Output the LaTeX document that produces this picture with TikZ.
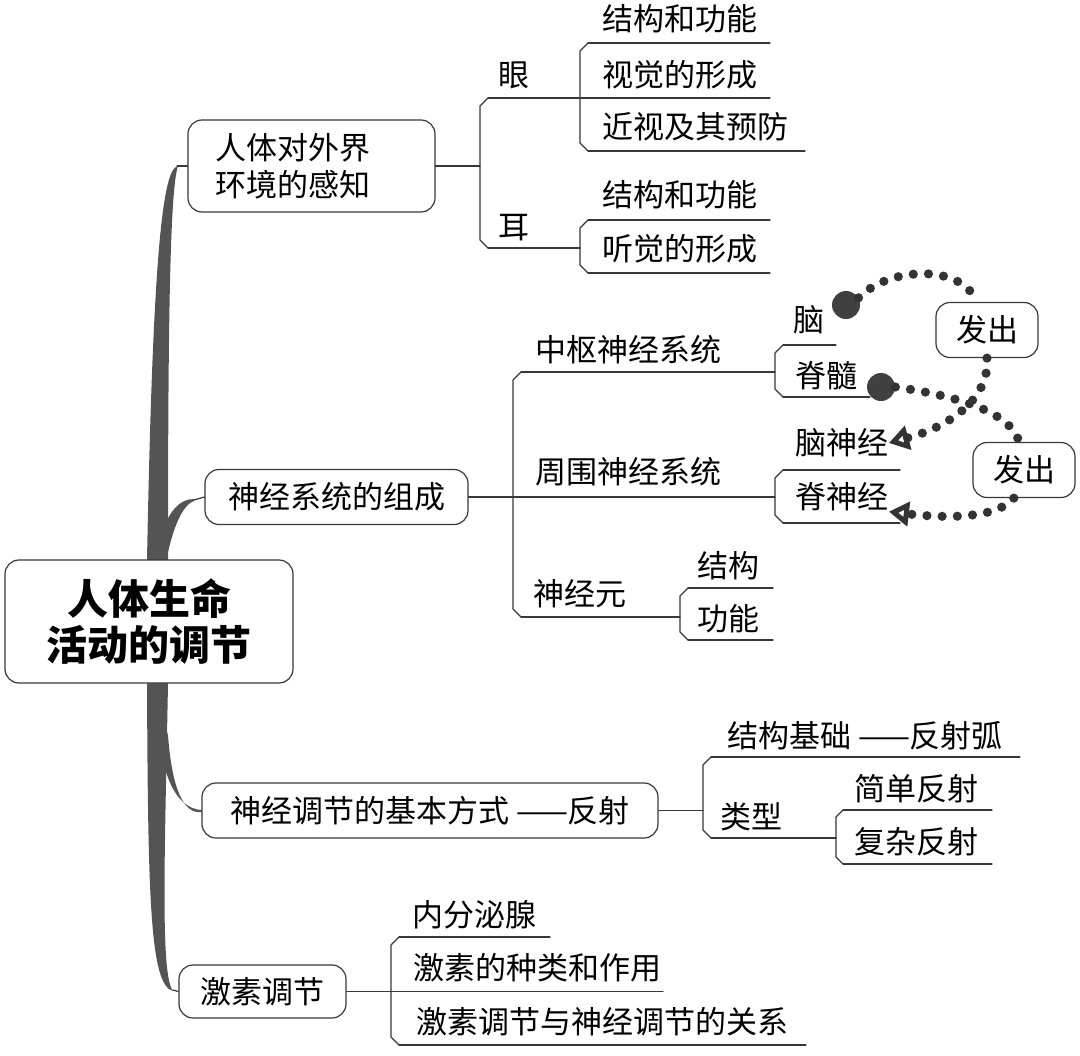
\documentclass[tikz,border=0pt]{standalone}
\usepackage{fontspec}
\newfontfamily\cjk{Noto Sans CJK SC}
\usetikzlibrary{arrows.meta, calc}
\definecolor{trunkgray}{rgb}{0.33, 0.33, 0.33}
\definecolor{linegray}{rgb}{0.22, 0.22, 0.22}

\begin{document}
\begin{tikzpicture}[x=0.5pt, y=-0.5pt, line cap=round, line join=round,
    every node/.style={font=\cjk\fontsize{15.5}{18.5}\selectfont, inner sep=0pt},
    box/.style={draw=linegray, line width=0.6pt, rounded corners=7pt, minimum height=27.5pt},
    twig/.style={draw=linegray, line width=0.6pt},
    dotpath/.style={draw=black!80, line width=4.6pt, dash pattern=on 0pt off 7.6pt},
    tip/.style={-{Triangle[open, length=10pt 0 0, width=12pt 0 0, line width=3pt]}},
    bead/.style={circle, fill=black!75, minimum size=14pt}]
    \useasboundingbox (0,0) rectangle (1080,1055);

    % trunk of the map
    \fill[trunkgray] (176,167) .. controls (160,175) and (152,300) .. (147,560) -- (147,683)
        .. controls (148,900) and (150,985) .. (173,991) .. controls (160,975) and (165,850) .. (168,683)
        -- (168,560) .. controls (168,320) and (170,190) .. (178,166) -- cycle;
    \fill[trunkgray] (194,499) .. controls (180,499) and (170,510) .. (162,532) -- (166,562)
        .. controls (172,530) and (182,505) .. (194,501) -- cycle;
    \fill[trunkgray] (201,812) .. controls (184,814) and (172,790) .. (168,735) -- (156,700)
        .. controls (158,775) and (176,808) .. (201,810) -- cycle;
    \coordinate (t1) at (177,166);
    \coordinate (t2) at (194,500);
    \coordinate (t3) at (201,811);
    \coordinate (t4) at (173,990);

    % main topics
    \node[box, fill=white, minimum width=144pt, minimum height=61.5pt, align=center,
        font=\cjk\bfseries\fontsize{20.5}{23}\selectfont] (root) at (149,621.5) {人体生命\\活动的调节};
    \node[box, minimum width=123.5pt, minimum height=46pt, text width=96.5pt, inner xsep=13.5pt,
        align=left] (sense) at (311.5,166) {人体对外界\\环境的感知};
    \node[box, minimum width=131.5pt] (nerve) at (336.5,497) {神经系统的组成};
    \node[box, minimum width=228pt] (reflex) at (430,810.5) {神经调节的基本方式 ——反射};
    \node[box, minimum width=83.5pt, minimum height=26.5pt] (hormone) at (262.5,991.5) {激素调节};
    \draw[twig] (t1) -- (sense.west);
    \draw[twig] (t2) -- (nerve.west);
    \draw[twig] (t3) -- (reflex.west);
    \draw[twig] (t4) -- (hormone.west);

    % eye and ear
    \node (eye) at (514,75) {眼};
    \node (ear) at (514,228) {耳};
    \node (eyeA) at (680,19) {结构和功能};
    \node (eyeB) at (680,75) {视觉的形成};
    \node (eyeC) at (695,127) {近视及其预防};
    \node (earA) at (680,195) {结构和功能};
    \node (earB) at (680,249) {听觉的形成};
    \coordinate (senseJ) at (480,166);
    \draw[twig] (sense.east) -- (senseJ);
    \draw[twig] (488,98) -- (480,106) -- (480,240) -- (488,248);
    \draw[twig] (488,98) -- (770,98);
    \draw[twig] (488,248) -- (580,248);
    \draw[twig] (588,43) -- (580,51) -- (580,143) -- (588,151);
    \draw[twig] (588,43) -- (770,43);
    \draw[twig] (588,151) -- (805,151);
    \draw[twig] (588,220) -- (580,228) -- (580,265) -- (588,273);
    \draw[twig] (588,220) -- (770,220);
    \draw[twig] (588,273) -- (770,273);

    % nervous system
    \node (cns) at (628,350) {中枢神经系统};
    \node (pns) at (628,472) {周围神经系统};
    \node (neuron) at (580,594) {神经元};
    \node (brain) at (809,320) {脑};
    \node (cord) at (826,376) {脊髓};
    \node (cranial) at (842,443) {脑神经};
    \node (spinal) at (842,497) {脊神经};
    \node (nstruct) at (728,566) {结构};
    \node (nfunc) at (728,619) {功能};
    \coordinate (nerveJ) at (513,497);
    \draw[twig] (nerve.east) -- (nerveJ);
    \draw[twig] (521,372) -- (513,380) -- (513,609) -- (521,617);
    \draw[twig] (521,372) -- (775,372);
    \draw[twig] (nerveJ) -- (775,497);
    \draw[twig] (521,617) -- (680,617);
    \draw[twig] (783,345) -- (775,353) -- (775,389) -- (783,397);
    \draw[twig] (783,345) -- (836,345);
    \draw[twig] (783,397) -- (870,397);
    \draw[twig] (783,470) -- (775,478) -- (775,515) -- (783,523);
    \draw[twig] (783,470) -- (900,470);
    \draw[twig] (783,523) -- (900,523);
    \draw[twig] (688,588) -- (680,596) -- (680,632) -- (688,640);
    \draw[twig] (688,588) -- (773,588);
    \draw[twig] (688,640) -- (773,640);

    % where the nerves come from
    \node[bead] (brainDot) at (846,305) {};
    \node[bead] (cordDot) at (881,387) {};
    \node[box, minimum width=51pt] (send1) at (987,330) {发出};
    \node[box, minimum width=51pt] (send2) at (1024,470) {发出};
    \draw[dotpath] (brainDot.30) .. controls (890,266) and (962,264) .. (send1.110);
    \draw[dotpath, tip] (send1.south) .. controls (990,395) and (955,425) .. (cranial.east);
    \draw[dotpath] (cordDot.east) .. controls (950,395) and (1010,410) .. (send2.100);
    \draw[dotpath, tip] (send2.250) .. controls (1000,515) and (960,520) .. (spinal.south east);

    % reflex
    \node (arcbase) at (865,736) {结构基础 ——反射弧};
    \node (kind) at (751,817) {类型};
    \node (simple) at (916,789) {简单反射};
    \node (complex) at (916,842) {复杂反射};
    \coordinate (reflexJ) at (703,810.5);
    \draw[twig] (reflex.east) -- (reflexJ);
    \draw[twig] (711,757) -- (703,765) -- (703,830) -- (711,838);
    \draw[twig] (711,757) -- (1020,757);
    \draw[twig] (711,838) -- (836,838);
    \draw[twig] (843,810) -- (836,817) -- (836,857) -- (843,864);
    \draw[twig] (843,810) -- (992,810);
    \draw[twig] (843,864) -- (992,864);

    % hormones
    \node (gland) at (474,915) {内分泌腺};
    \node (htype) at (537,968) {激素的种类和作用};
    \node (hrel) at (602,1022) {激素调节与神经调节的关系};
    \coordinate (hormoneJ) at (391,991.5);
    \draw[twig] (hormone.east) -- (hormoneJ) -- (663,991.5);
    \draw[twig] (399,937) -- (391,945) -- (391,1037) -- (399,1045);
    \draw[twig] (399,937) -- (550,937);
    \draw[twig] (399,1045) -- (806,1045);
\end{tikzpicture}
\end{document}
